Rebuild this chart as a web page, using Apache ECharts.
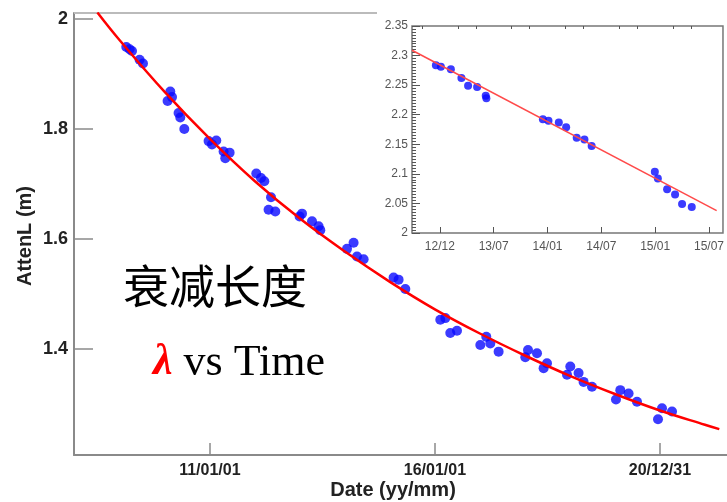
<!DOCTYPE html>
<html>
<head>
<meta charset="utf-8">
<script src="https://cdn.jsdelivr.net/npm/echarts@6/dist/echarts.min.js"></script>
<style>
html,body{margin:0;padding:0;background:#fff;}
#chart{width:727px;height:502px;}
</style>
</head>
<body>
<div id="chart"></div>
<script>
// ---------- main plot data (decimal years, attenuation length in m) ----------
const mainYears = [2009.142, 2009.216, 2009.269, 2009.438, 2009.513,
  2010.06, 2010.12, 2010.158, 2010.304, 2010.342, 2010.431,
  2010.971, 2011.047, 2011.142, 2011.304, 2011.342, 2011.438,
  2012.031, 2012.136, 2012.209, 2012.304, 2012.358, 2012.453,
  2012.993, 2013.047, 2013.269, 2013.416, 2013.453,
  2014.047, 2014.193, 2014.269, 2014.416,
  2015.082, 2015.193, 2015.342,
  2016.12, 2016.231, 2016.342, 2016.491,
  2017.009, 2017.142, 2017.231, 2017.416,
  2018.009, 2018.069, 2018.269, 2018.416, 2018.491,
  2018.936, 2019.009, 2019.193, 2019.304, 2019.491,
  2020.024, 2020.12, 2020.304, 2020.491,
  2020.958, 2021.047, 2021.269];
const mainValues = [1.949, 1.945, 1.942, 1.926, 1.919,
  1.851, 1.868, 1.858, 1.829, 1.821, 1.800,
  1.778, 1.772, 1.779, 1.759, 1.747, 1.757,
  1.719, 1.711, 1.705, 1.653, 1.676, 1.650,
  1.641, 1.646, 1.632, 1.623, 1.616,
  1.582, 1.593, 1.568, 1.563,
  1.530, 1.526, 1.509,
  1.453, 1.456, 1.429, 1.433,
  1.407, 1.422, 1.410, 1.395,
  1.385, 1.398, 1.392, 1.365, 1.374,
  1.353, 1.368, 1.356, 1.340, 1.331,
  1.308, 1.325, 1.319, 1.304,
  1.272, 1.292, 1.286];
// fitted curve, values
const fitYears = [2008.5, 2009, 2010, 2011, 2012, 2013, 2014, 2015, 2016, 2017, 2018, 2019, 2020, 2021, 2022, 2022.32];
const fitValues = [2.012, 1.961, 1.867, 1.782, 1.705, 1.637, 1.577, 1.522, 1.472, 1.428, 1.388, 1.351, 1.318, 1.288, 1.262, 1.254];
const mainXTicks = [2011, 2016, 2021];
const mainXTickLabels = ['11/01/01', '16/01/01', '20/12/31'];
const mainYTicks = [1.4, 1.6, 1.8, 2];

// ---------- inset data ----------
const insetYears = [2012.963, 2013.009, 2013.102, 2013.2, 2013.262, 2013.346, 2013.426, 2013.432,
  2013.957, 2014.009, 2014.105, 2014.173, 2014.271, 2014.343, 2014.41,
  2014.997, 2015.025, 2015.111, 2015.185, 2015.25, 2015.34];
const insetValues = [2.2836, 2.281, 2.277, 2.262, 2.249, 2.247, 2.232, 2.228,
  2.1925, 2.190, 2.187, 2.179, 2.161, 2.158, 2.147,
  2.1035, 2.092, 2.074, 2.065, 2.049, 2.044];
const insetFitYears = [2012.741, 2015.571];
const insetFitValues = [2.309, 2.0377];
const insetXTicks = [2013, 2013.5, 2014, 2014.5, 2015, 2015.5];
const insetXTickLabels = ['12/12', '13/07', '14/01', '14/07', '15/01', '15/07'];

// minor tick positions for inset x axis (3 per half-year)
const insetXMinor = [];
for (let i = -1; i < insetXTicks.length * 3; i++) {
  const v = 2013 + i / 6;
  if (i % 3 !== 0 && v < 2015.63) insetXMinor.push(+v.toFixed(4));
}

const chart = echarts.init(document.getElementById('chart'), null, {renderer: 'canvas'});
const axisGray = '#8a8a8a';
const option = {
  animation: false,
  backgroundColor: '#fff',
  grid: [
    {left: 74, top: 13, width: 653, height: 442, show: false},
    {left: 412, top: 26, width: 312, height: 207, show: true, backgroundColor: '#fff', borderColor: '#777', borderWidth: 1.5, z: 5}
  ],
  xAxis: [
    {
      type: 'value', gridIndex: 0, min: 2007.98, max: 2007.98 + 653 / 45,
      splitLine: {show: false},
      axisLine: {show: true, onZero: false, lineStyle: {color: axisGray, width: 2}},
      axisTick: {show: true, inside: true, length: 12, customValues: mainXTicks, lineStyle: {color: axisGray, width: 1.5}},
      axisLabel: {
        customValues: mainXTicks, margin: 8,
        formatter: v => mainXTickLabels[mainXTicks.indexOf(v)] || '',
        fontFamily: 'Liberation Sans', fontWeight: 'bold', fontSize: 16, color: '#222'
      }
    },
    {
      type: 'value', gridIndex: 1, min: 2012.741, max: 2015.63, z: 6,
      splitLine: {show: false},
      axisLine: {show: false, onZero: false},
      axisTick: {show: true, inside: true, length: 6, customValues: insetXTicks, lineStyle: {color: '#555', width: 1}},
      axisLabel: {
        customValues: insetXTicks, margin: 8,
        formatter: v => insetXTickLabels[insetXTicks.indexOf(v)] || '',
        fontFamily: 'Liberation Sans', fontSize: 12, color: '#555'
      }
    },
    {
      type: 'value', gridIndex: 1, min: 2012.741, max: 2015.63, z: 6,
      splitLine: {show: false},
      axisLine: {show: false, onZero: false},
      axisTick: {show: true, inside: true, length: 3, customValues: insetXMinor, lineStyle: {color: '#555', width: 1}},
      axisLabel: {show: false}
    }
  ],
  yAxis: [
    {
      type: 'value', gridIndex: 0, min: 1.207, max: 2.011,
      splitLine: {show: false},
      axisLine: {show: true, onZero: false, lineStyle: {color: axisGray, width: 2}},
      axisTick: {show: true, inside: true, length: 19, customValues: mainYTicks, lineStyle: {color: axisGray, width: 1.5}},
      axisLabel: {
        customValues: mainYTicks, margin: 6,
        formatter: v => String(v),
        fontFamily: 'Liberation Sans', fontWeight: 'bold', fontSize: 18, color: '#222'
      }
    },
    {
      type: 'value', gridIndex: 1, min: 2, max: 2.35, interval: 0.05, z: 6,
      splitLine: {show: false},
      axisLine: {show: false, onZero: false},
      axisTick: {show: true, inside: true, length: 8, lineStyle: {color: '#555', width: 1}},
      minorTick: {show: true, splitNumber: 10, length: 4, lineStyle: {color: '#555', width: 1}},
      minorSplitLine: {show: false},
      axisLabel: {
        margin: 4,
        formatter: v => String(parseFloat(v.toFixed(2))),
        fontFamily: 'Liberation Sans', fontSize: 12, color: '#555'
      }
    }
  ],
  series: [
    {
      type: 'scatter', xAxisIndex: 0, yAxisIndex: 0,
      data: mainYears.map((x, i) => [x, mainValues[i]]),
      symbol: 'circle', symbolSize: 10,
      itemStyle: {color: '#0a0aff'}, z: 3
    },
    {
      type: 'line', xAxisIndex: 0, yAxisIndex: 0,
      data: fitYears.map((x, i) => [x, fitValues[i]]),
      smooth: 0.4, showSymbol: false, clip: true,
      lineStyle: {color: '#ff0000', width: 2.5}, z: 4
    },
    {
      type: 'scatter', xAxisIndex: 1, yAxisIndex: 1,
      data: insetYears.map((x, i) => [x, insetValues[i]]),
      symbol: 'circle', symbolSize: 8,
      itemStyle: {color: '#0a0aff'}, z: 7
    },
    {
      type: 'line', xAxisIndex: 1, yAxisIndex: 1,
      data: insetFitYears.map((x, i) => [x, insetFitValues[i]]),
      showSymbol: false,
      lineStyle: {color: '#ff4a4a', width: 1.5}, z: 8
    }
  ],
  graphic: [
    {type: 'line', shape: {x1: 74, y1: 13, x2: 377, y2: 13}, style: {stroke: '#bbb', lineWidth: 2}, z: 1},
    {type: 'text', x: 25, y: 236, rotation: Math.PI / 2,
      style: {text: 'AttenL (m)', font: 'bold 20px "Liberation Sans"', fill: '#222', align: 'center', verticalAlign: 'middle'}},
    {type: 'text', x: 393, y: 490,
      style: {text: 'Date (yy/mm)', font: 'bold 20px "Liberation Sans"', fill: '#222', align: 'center', verticalAlign: 'middle'}},
    {type: 'text', x: 123, y: 286,
      style: {text: '衰减长度', font: '46px "Noto Sans CJK SC"', fill: '#000', align: 'left', verticalAlign: 'middle'}},
    {type: 'text', x: 153, y: 363,
      style: {
        text: '{a|λ}{b| vs Time}', align: 'left', verticalAlign: 'middle',
        rich: {
          a: {fontFamily: 'Liberation Serif', fontStyle: 'italic', fontWeight: 'bold', fontSize: 44, fill: '#ff0000', color: '#ff0000'},
          b: {fontFamily: 'Liberation Serif', fontSize: 44, fill: '#000', color: '#000'}
        }
      }}
  ]
};
chart.setOption(option);
</script>
</body>
</html>
